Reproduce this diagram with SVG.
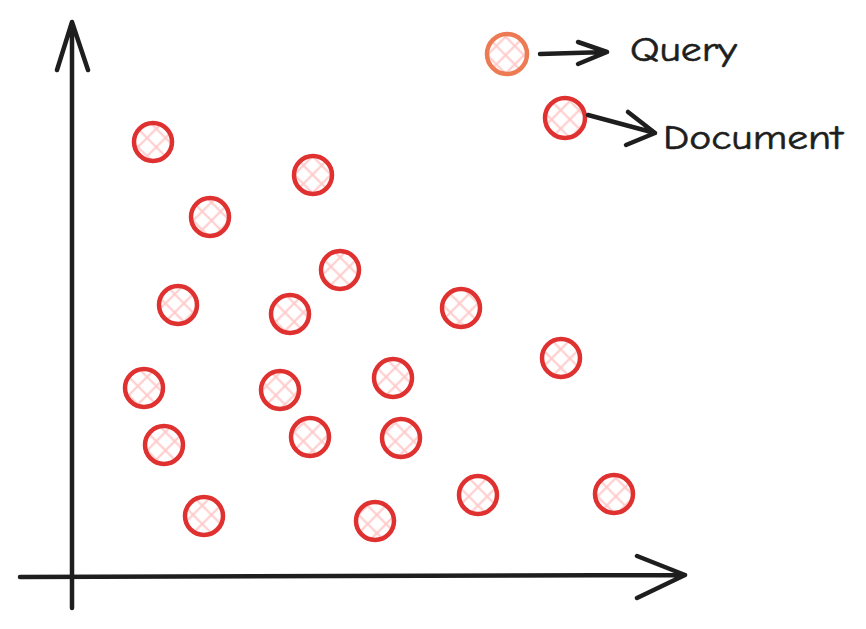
<svg xmlns="http://www.w3.org/2000/svg" width="866" height="629" viewBox="0 0 866 629">
<style>
.doc{fill:url(#hatch);stroke:#e03131;stroke-width:4.5}
.qry{fill:url(#hatch);stroke:#ec7a52;stroke-width:4.5}
.ax{fill:none;stroke:#1e1e1e;stroke-width:4.5;stroke-linecap:round;stroke-linejoin:round}
.lbl{font-family:"Comic Neue","Open Sans","DejaVu Sans",sans-serif;font-size:34px;fill:#1e1e1e;stroke:#1e1e1e;stroke-width:0.6}
</style>
<defs>
<pattern id="hatch" width="13" height="13" patternUnits="userSpaceOnUse" patternTransform="rotate(45)">
<rect width="13" height="13" fill="#fff"/>
<line x1="0" y1="6.5" x2="13" y2="6.5" stroke="#ffc9c9" stroke-width="2"/>
<line x1="6.5" y1="0" x2="6.5" y2="13" stroke="#ffc9c9" stroke-width="2"/>
</pattern>
</defs>
<rect width="866" height="629" fill="#fff"/>
<g id="docs">
<circle id="d1" class="doc" cx="153" cy="142" r="19"/>
<circle id="d2" class="doc" cx="210" cy="217" r="19"/>
<circle id="d3" class="doc" cx="313" cy="175" r="19"/>
<circle id="d4" class="doc" cx="340" cy="270" r="19"/>
<circle id="d5" class="doc" cx="178" cy="305" r="19"/>
<circle id="d6" class="doc" cx="290" cy="314" r="19"/>
<circle id="d7" class="doc" cx="461" cy="308" r="19"/>
<circle id="d8" class="doc" cx="561" cy="358" r="19"/>
<circle id="d9" class="doc" cx="144" cy="388" r="19"/>
<circle id="d10" class="doc" cx="280" cy="390" r="19"/>
<circle id="d11" class="doc" cx="393" cy="378" r="19"/>
<circle id="d12" class="doc" cx="164" cy="445" r="19"/>
<circle id="d13" class="doc" cx="310" cy="437" r="19"/>
<circle id="d14" class="doc" cx="401" cy="438" r="19"/>
<circle id="d15" class="doc" cx="204" cy="516" r="19"/>
<circle id="d16" class="doc" cx="375" cy="521" r="19"/>
<circle id="d17" class="doc" cx="478" cy="495" r="19"/>
<circle id="d18" class="doc" cx="614" cy="494" r="19"/>
</g>
<g id="legend-query">
<circle class="qry" cx="507" cy="54" r="20"/>
<text class="lbl" x="630" y="61" textLength="107" lengthAdjust="spacingAndGlyphs">Query</text>
</g>
<g id="legend-document">
<circle class="doc" cx="565" cy="118" r="20"/>
<text class="lbl" x="663" y="149" textLength="180" lengthAdjust="spacingAndGlyphs">Document</text>
</g>
<g id="connectors">
<path class="ax" d="M72 608 L72 22 M57 70 L72 22 L88 70"/>
<path class="ax" d="M20 577 L685 575 M637 556 L685 575 L637 598"/>
<path class="ax" d="M540 54 L607 52 M578 42 L607 52 L578 64"/>
<path class="ax" d="M588 115 L655 133 M628 112 L655 133 L626 145"/>
</g>
</svg>
